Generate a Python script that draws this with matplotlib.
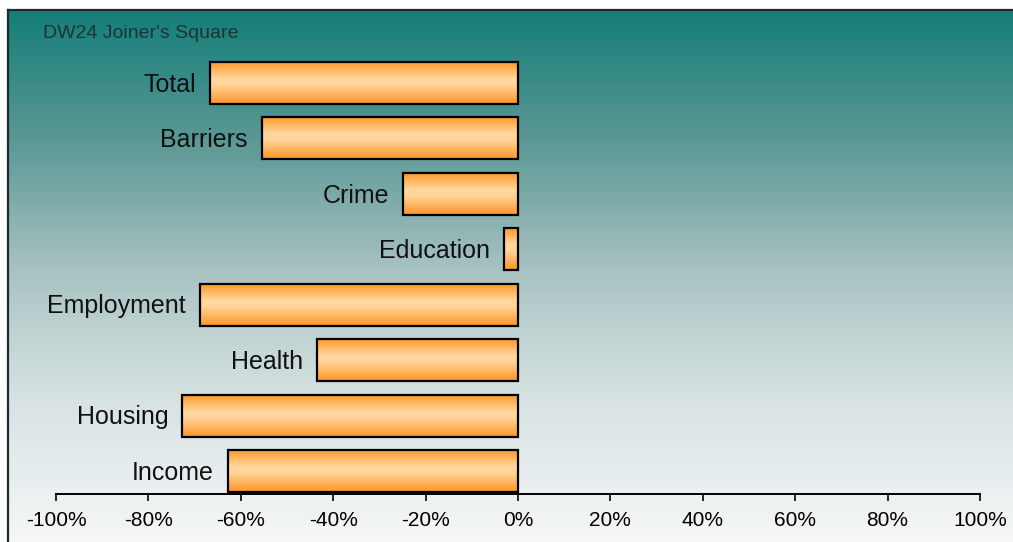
import numpy as np
import matplotlib
matplotlib.use('Agg')
import matplotlib.pyplot as plt
from matplotlib.colors import LinearSegmentedColormap
from matplotlib.ticker import FuncFormatter

plt.rcParams['font.family'] = ['Liberation Sans', 'DejaVu Sans']

# datos
categorias = ['Total', 'Barriers', 'Crime', 'Education', 'Employment', 'Health', 'Housing', 'Income']
valores = [-66.7, -55.5, -24.8, -3.0, -68.9, -43.5, -72.7, -62.8]
ticks = [-100, -80, -60, -40, -20, 0, 20, 40, 60, 80, 100]
titulo = "DW24 Joiner's Square"

W, H = 1013, 542
fig = plt.figure(figsize=(W / 100, H / 100), dpi=100)
fig.patch.set_facecolor('white')

# fondo con degradado
bg = fig.add_axes([8 / W, 0, 1 - 8 / W, (H - 10) / H], zorder=0)
cmap_bg = LinearSegmentedColormap.from_list('bg', [
    (0.0, '#147e78'), (0.24, '#5a9794'), (0.49, '#a8c3c2'),
    (0.73, '#d7e2e2'), (1.0, '#f5f7f8')])
grad = np.linspace(0, 1, 256).reshape(-1, 1)
bg.imshow(grad, aspect='auto', cmap=cmap_bg, extent=[0, 1, 1, 0])
bg.set_xlim(0, 1)
bg.set_ylim(1, 0)
bg.set_xticks([])
bg.set_yticks([])
for s in ['right', 'bottom']:
    bg.spines[s].set_visible(False)
for s in ['left', 'top']:
    bg.spines[s].set_color('#1b2b2b')
    bg.spines[s].set_linewidth(1.6)
bg.text(35 / (W - 8), 1 - (34 - 10) / (H - 10), titulo, fontsize=14, color='#1c3434',
        va='center', ha='left', transform=bg.transAxes)

# grafico principal
ax = fig.add_axes([56 / W, (H - 494) / H, (980 - 56) / W, (494 - 10) / H], zorder=1)
ax.set_facecolor('none')
ypos = np.arange(len(categorias))
alto = 0.76
barras = ax.barh(ypos, valores, height=alto, color='#ffb060', edgecolor='black',
                 linewidth=1.6, zorder=3)

cmap_bar = LinearSegmentedColormap.from_list('bar', [
    (0.0, '#ff9628'), (0.42, '#ffd9a0'), (0.55, '#ffd49a'), (1.0, '#ff9628')])
g = np.linspace(0, 1, 64).reshape(-1, 1)
for b, y, v, nombre in zip(barras, ypos, valores, categorias):
    im = ax.imshow(g, aspect='auto', cmap=cmap_bar, zorder=2,
                   extent=[v, 0, y + alto / 2, y - alto / 2])
    im.set_clip_path(b)
    b.set_facecolor('none')
    ax.text(v - 3.0, y + 0.03, nombre, ha='right', va='center',
            fontsize=18, color='#111111', zorder=4)

ax.set_xlim(-100, 100)
ax.set_ylim(7 + 23 / 55.43, -73 / 55.43)
ax.set_xticks(ticks)
ax.xaxis.set_major_formatter(FuncFormatter(lambda x, p: f'{x:.0f}%'))
ax.set_yticks([])
for s in ['left', 'right', 'top']:
    ax.spines[s].set_visible(False)
ax.spines['bottom'].set_linewidth(1.4)
ax.tick_params(axis='x', length=5, width=1.2, labelsize=15, pad=7, colors='black')

fig.savefig('out.png', dpi=100)
